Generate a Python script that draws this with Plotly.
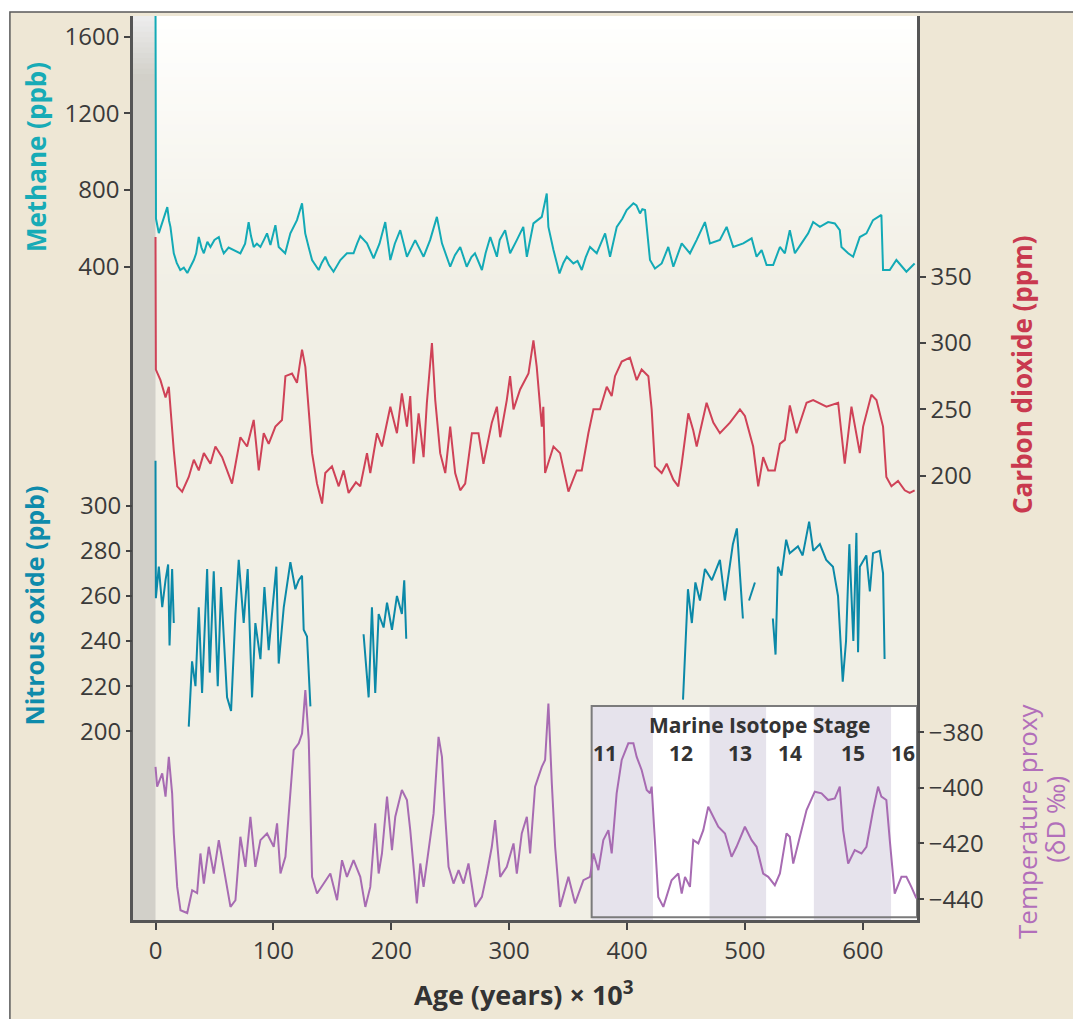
import plotly.graph_objects as go

# ---------------- DATA ----------------
ch4_age = [0, 0.4, 2.8, 6, 8.5, 10, 11.5, 12.7, 15.5, 18, 21, 24, 27, 30, 32.5, 34.5, 36.7, 39, 41, 44,
           46.6, 50, 53.7, 56, 57.9, 62, 66.4, 69, 72, 76, 79, 81, 83.3, 86, 89, 92, 94.6, 97.5, 101.7,
           104.5, 107, 110, 114.4, 120, 124.3, 127, 130, 132.8, 138.4, 141, 144, 147, 151, 156.8, 162.4,
           168, 171, 173.7, 179.4, 185, 190, 194.9, 199.2, 203, 207.6, 213.3, 220.3, 227.4, 233, 238.7,
           243, 250, 254, 258.5, 264, 268, 271, 276.9, 280, 284, 289.6, 292, 296.6, 300.8, 306.5, 312,
           315, 320.6, 327.7, 331.9, 333.3, 337.6, 342.7, 346, 348.9, 354.5, 358, 361.6, 365, 368.6,
           374.3, 381.4, 385.6, 391.3, 396, 399.7, 405.4, 408, 411, 413, 415.3, 419.5, 423.7, 429.4, 435,
           439.3, 446.4, 453.4, 459, 466.1, 470.3, 478.8, 484.5, 490.1, 498.6, 505.7, 509.9, 514.2, 518.4,
           524, 529.7, 533.9, 538.1, 542.4, 548, 553.7, 557.9, 563.6, 570.6, 576.3, 580.5, 581.9, 587.6,
           591.8, 597.5, 603.1, 608.7, 615.8, 617.2, 622.9, 628.5, 637, 644]
ch4_val = [1780, 650, 575, 640, 690, 711, 640, 607, 470, 420, 383, 395, 367, 400, 435, 470, 555, 500, 470, 530,
           503, 540, 555, 500, 470, 500, 487, 480, 470, 520, 633, 560, 503, 520, 503, 540, 574, 513, 617,
           503, 490, 470, 574, 643, 731, 574, 500, 435, 383, 420, 452, 410, 374, 435, 470,
           470, 520, 560, 522, 444, 520, 633, 435, 520, 591, 452, 539, 452, 540, 660,
           522, 400, 460, 503, 400, 450, 470, 383, 470, 555, 452, 540, 591, 470, 539, 608,
           452, 626, 660, 782, 608, 487, 365, 420, 452, 417, 430, 383, 450, 503,
           470, 574, 452, 608, 650, 696, 731, 720, 678, 700, 696, 435, 391, 417, 503,
           400, 522, 470, 539, 633, 522, 540, 608, 503, 522, 548, 452, 487, 409,
           409, 503, 470, 591, 470, 522, 574, 633, 608, 633, 626, 591, 503, 470,
           452, 555, 574, 643, 670, 383, 383, 435, 374, 417]

co2_age = [0, 0.3, 4.2, 8.5, 11.3, 12.7, 15.5, 18.4, 22.6, 28.2, 32.5, 36.7, 41, 46.6, 50.8, 56.5, 64.9, 72,
           77.7, 83.3, 87.6, 91.8, 96, 101.7, 107.3, 110.2, 115.8, 120, 124.3, 127.1, 130, 132.8, 137,
           141.3, 144, 149.7, 155.4, 159.6, 163.8, 170, 173.7, 179.4, 182.2, 187.9, 192.1, 199.2, 204.8,
           209, 213.3, 216.1, 218.9, 223.2, 227.4, 230.2, 234.5, 237.3, 241.5, 245.8, 250, 254.2, 258.5,
           262.7, 268.4, 274, 278.2, 285.3, 289.6, 292.4, 298, 300.8, 303.7, 309.3, 316.4, 320.6, 323.4,
           327.7, 329, 330.5, 337.6, 343.2, 350.3, 357.3, 361.6, 367.2, 371.5, 377.1, 382.8, 387, 389.8,
           395.5, 402.5, 408.2, 412.4, 418.1, 420.9, 423.7, 429.4, 433.6, 439.3, 443.5, 446.4, 452, 456.2,
           459.1, 467.5, 473.2, 478.8, 487.3, 495.8, 500, 507, 511.3, 515.5, 519.8, 525.4, 529.7, 533.9,
           538.1, 543.8, 552.3, 557.9, 569.2, 579.1, 584.7, 590.4, 594.6, 597.5, 600.3, 607.3, 611.6,
           617.2, 620, 624.3, 629.9, 635.6, 639.8, 644]
co2_val = [380, 280, 272, 259, 267, 249, 219, 192, 188, 199, 212, 204, 217, 209, 222, 214, 194, 229,
           222, 242, 204, 232, 224, 237, 242, 275, 277, 270, 295, 282, 247, 217, 194,
           179, 202, 207, 192, 204, 187, 195, 192, 217, 202, 232, 222, 252, 232,
           262, 237, 260, 209, 247, 214, 255, 300, 257, 217, 202, 237, 202, 189,
           194, 232, 232, 209, 240, 252, 229, 257, 275, 250, 265, 277, 302, 282,
           237, 252, 202, 222, 217, 188, 204, 204, 232, 250, 250, 267, 260, 275,
           286, 289, 272, 280, 275, 250, 207, 202, 209, 197, 192, 209, 247, 234,
           222, 255, 240, 232, 240, 250, 245, 222, 192, 214, 204, 204, 224, 227,
           253, 232, 255, 257, 252, 255, 209, 252, 232, 217, 237, 261, 257,
           237, 199, 192, 196, 189, 187, 189]

# Nitrous oxide: None marks gaps in the record
n2o_age = [0, 0.3, 2.8, 5.7, 8.5, 10.7, 11.9, 14.1, 15.5, None,
           28.2, 31, 33.9, 36.7, 39.5, 43.8, 46, 49.4, 52.8, 55.6, 60.7, 64.1, 67.8, 70.6, 74.8, 78.2,
           81.9, 84.7, 89, 92.4, 96, 98.9, 102.5, 104.5, 108.8, 114.4, 118.6, 121.5, 124.3, 125.7, 128.5,
           131.4, None,
           176.5, 180.8, 183.6, 186.4, 189.3, 193.5, 196.4, 200.6, 204.8, 209, 211, 212.7, None,
           447.5, 451.7, 455, 458, 461.9, 466.1, 472, 478.8, 483, 489.8, 493.2, 495.8, 498.3, None,
           503.5, 508.5, None,
           523.7, 526, 528, 531, 535, 538, 545, 549, 554.5, 558, 563.6, 569, 574.7, 579, 583, 585.8,
           588.6, 592, 594.6, 596, 597.5, 603, 606, 608.7, 614.4, 617.2, 618.5]
n2o_val = [320, 259, 273, 255, 267, 274, 238, 272, 248, None,
           202, 231, 220, 255, 217, 272, 226, 271, 220, 264, 215, 209, 252, 276, 248, 272,
           215, 248, 232, 264, 236, 251, 273, 230, 255, 275, 263, 267, 269, 245, 242,
           211, None,
           243, 215, 255, 217, 252, 246, 257, 245, 260, 252, 267, 241, None,
           214, 263, 248, 266, 258, 272, 267, 276, 258, 283, 290, 267, 250, None,
           258, 266, None,
           250, 234, 273, 269, 285, 279, 282, 278, 293, 280, 283, 276, 273, 260, 222, 240,
           283, 240, 288, 235, 273, 278, 262, 279, 280, 270, 232]

temp_age = [0, 1.4, 5.7, 8.5, 11.3, 14.1, 15.5, 18.4, 21.2, 26.9, 31.1, 35.3, 38.1, 41, 45.2, 49.4, 53.7,
            57.9, 63.6, 67.8, 72, 76.3, 80.5, 84.7, 89, 94.6, 100.3, 103.1, 106, 110.2, 114.4, 117.2,
            121.5, 124.3, 127.1, 130, 132.8, 137, 142.7, 148.3, 154, 158.2, 162.4, 168, 173.7, 178, 182.2,
            186.4, 189.3, 192.1, 196.4, 200.6, 203.4, 209, 213.3, 216.1, 221.7, 224.6, 227.4, 231.6,
            235.9, 240.1, 243, 245.8, 248.6, 252.8, 257.1, 261.3, 265.5, 271.2, 276.9, 281.1, 285.3,
            288.1, 292.4, 298, 303.7, 306.5, 310.7, 315, 317.8, 322, 327.7, 330.5, 333.3, 336.2, 339,
            343.2, 350.3, 355.9, 363, 368.6, 371.5, 375.7, 379.9, 384.2, 387, 391.2, 395.5, 401.1, 405.4,
            408.2, 412.4, 416.7, 419.5, 420.9, 426.5, 430.8, 437.8, 443.5, 446.4, 449.2, 453.4, 456.2,
            460.5, 464.7, 468.9, 477.4, 483.1, 488.7, 492.9, 500, 505.7, 509.9, 515.5, 519.8, 525.4,
            529.7, 535.3, 538.1, 541, 546.6, 552.3, 559.3, 565, 570.6, 576.3, 580.5, 583.3, 587.6, 593.2,
            598.9, 603.1, 608.8, 613, 615.8, 620, 622.9, 627.1, 632.8, 637, 641.2, 645.5]
temp_val = [-392.5, -399.6, -394.8, -403.2, -388.9, -402, -416.4, -435.6, -444, -445, -436.8, -437.8, -423.6,
            -434.4, -421.2, -430.8, -418.8, -428.4, -442.8, -440.4, -417.6, -428.4, -410.4, -428.4, -418.8,
            -416.4, -421.2, -412.8, -430.8, -424.8, -399.6, -386.5, -384, -380.5, -364.9, -382.9, -432,
            -438, -434.4, -430.8, -440.4, -426, -432, -426, -432, -442.8, -435.6, -412.8, -430.8, -423.6,
            -403.2, -422.4, -410.4, -400.8, -404.4, -415.2, -441.5, -427.2, -435.6, -422.4, -409.2,
            -381.7, -388.9, -410.4, -428.4, -434.4, -429.6, -434.4, -427.2, -442.8, -439.2, -430.8,
            -421.2, -411.6, -432, -428.4, -420, -430.8, -416.4, -410.4, -423.6, -399.6, -392.5, -390,
            -369.7, -398.4, -421.2, -442.8, -432, -441.5, -433.2, -432, -423.6, -429.6, -418.8, -415.2,
            -423.6, -402, -390, -384, -384, -388.9, -393.6, -400.8, -402, -399.6, -439.2, -442.8, -433.2,
            -430.8, -438, -432, -435.6, -418.8, -420, -415.2, -406.8, -414, -416.4, -424.8, -421.2, -414,
            -418.8, -421.2, -430.8, -432, -435, -430.8, -416.4, -417.6, -427.2, -417.6, -408, -401.4,
            -402, -404.4, -403.8, -399.6, -415.2, -427.2, -422.4, -423.6, -421.2, -408, -399.6, -403.2,
            -404.4, -418.8, -438, -432, -432, -435.6, -439.7]

x_ticks = [0, 100, 200, 300, 400, 500, 600]
ch4_ticks = [400, 800, 1200, 1600]
co2_ticks = [200, 250, 300, 350]
n2o_ticks = [200, 220, 240, 260, 280, 300]
temp_ticks = [-440, -420, -400, -380]

stage_labels = ["11", "12", "13", "14", "15", "16"]
stage_bounds = [370, 422, 470, 518, 558.5, 624, 646]   # inset starts at 370
stage_label_x = [381, 446, 496, 538, 591.5, 634]
stage_shaded = [True, False, True, False, True, False]

# ---------------- STYLE ----------------
FONT = "Open Sans"
C_CH4 = "#13aab6"
C_CO2 = "#cf4257"
C_N2O = "#0b89a8"
C_TMP = "#a76bb2"
C_CH4_T = "#17abb6"
C_N2O_T = "#0e8bab"
C_CO2_T = "#c9394f"
C_TMP_T = "#b26fba"
AXC = "#555555"
TICKC = "#3a3a3a"
OUTER = "#eee7d5"
PLOTBG = (241, 239, 229)

X_RANGE = [-19.1, 646.0]

fig = go.Figure()

fig.add_trace(go.Scatter(x=co2_age, y=co2_val, yaxis="y2", mode="lines",
                         line=dict(color=C_CO2, width=2), name="CO2"))
fig.add_trace(go.Scatter(x=ch4_age, y=ch4_val, yaxis="y", mode="lines",
                         line=dict(color=C_CH4, width=2), name="CH4"))
fig.add_trace(go.Scatter(x=n2o_age, y=n2o_val, yaxis="y3", mode="lines", connectgaps=False,
                         line=dict(color=C_N2O, width=2), name="N2O"))
fig.add_trace(go.Scatter(x=temp_age, y=temp_val, yaxis="y4", mode="lines",
                         line=dict(color=C_TMP, width=2), name="Temp"))

shapes = []
# outer framed panel
shapes.append(dict(type="rect", xref="paper", yref="paper", x0=-0.157, x1=1.4, y0=-0.3, y1=1.0044,
                   fillcolor=OUTER, line=dict(color="#5a5a5a", width=1.5), layer="below"))
# plot-area base colour
shapes.append(dict(type="rect", xref="paper", yref="paper", x0=0, x1=1, y0=0, y1=1,
                   fillcolor="rgb(%d,%d,%d)" % PLOTBG, line=dict(width=0), layer="below"))
# top gradient (white -> beige)
N = 40
g_top, g_bot = 1.0, 0.70
for i in range(N):
    t = i / (N - 1)
    r = int(round(255 + (PLOTBG[0] - 255) * t))
    g = int(round(255 + (PLOTBG[1] - 255) * t))
    b = int(round(254 + (PLOTBG[2] - 254) * t))
    y1 = g_top - (g_top - g_bot) * i / N
    y0 = g_top - (g_top - g_bot) * (i + 1) / N
    shapes.append(dict(type="rect", xref="paper", yref="paper", x0=0, x1=1, y0=y0 - 0.001, y1=y1,
                       fillcolor="rgb(%d,%d,%d)" % (r, g, b), line=dict(width=0), layer="below"))
# grey band for the period before present
GB = (210, 208, 201)
shapes.append(dict(type="rect", xref="x", yref="paper", x0=X_RANGE[0], x1=0, y0=0, y1=0.93,
                   fillcolor="rgb(%d,%d,%d)" % GB, line=dict(width=0), layer="below"))
M = 12
for i in range(M):
    t = i / (M - 1)
    c = tuple(int(round(236 + (GB[k] - 236) * t)) for k in range(3))
    y1 = 1.0 - 0.07 * i / M
    y0 = 1.0 - 0.07 * (i + 1) / M
    shapes.append(dict(type="rect", xref="x", yref="paper", x0=X_RANGE[0], x1=0, y0=y0 - 0.001, y1=y1,
                       fillcolor="rgb(%d,%d,%d)" % c, line=dict(width=0), layer="below"))
# inset with marine isotope stages
INSET_TOP = 0.2367
shapes.append(dict(type="rect", xref="x", yref="paper", x0=stage_bounds[0], x1=stage_bounds[-1],
                   y0=0, y1=INSET_TOP, fillcolor="#ffffff", line=dict(width=0), layer="below"))
for i, shaded in enumerate(stage_shaded):
    if shaded:
        shapes.append(dict(type="rect", xref="x", yref="paper", x0=stage_bounds[i], x1=stage_bounds[i + 1],
                           y0=0, y1=INSET_TOP, fillcolor="#e6e3ec", line=dict(width=0), layer="below"))
shapes.append(dict(type="rect", xref="x", yref="paper", x0=stage_bounds[0], x1=stage_bounds[-1],
                   y0=0.003, y1=INSET_TOP, fillcolor="rgba(0,0,0,0)",
                   line=dict(color="#7b7b7b", width=2), layer="below"))

annotations = []
annotations.append(dict(text="<b>Marine Isotope Stage</b>", xref="x", yref="paper", x=512, y=0.2157,
                        showarrow=False, font=dict(family=FONT, size=21, color="#333333"),
                        xanchor="center", yanchor="middle"))
for lab, lx in zip(stage_labels, stage_label_x):
    annotations.append(dict(text="<b>%s</b>" % lab, xref="x", yref="paper", x=lx, y=0.1847,
                            showarrow=False, font=dict(family=FONT, size=21, color="#333333"),
                            xanchor="center", yanchor="middle"))
# axis titles
annotations.append(dict(text="<b>Methane (ppb)</b>", xref="paper", yref="paper", x=-0.1237, y=0.844,
                        textangle=-90, showarrow=False, font=dict(family=FONT, size=26, color=C_CH4_T),
                        xanchor="center", yanchor="middle"))
annotations.append(dict(text="<b>Nitrous oxide (ppb)</b>", xref="paper", yref="paper", x=-0.126, y=0.348,
                        textangle=-90, showarrow=False, font=dict(family=FONT, size=25, color=C_N2O_T),
                        xanchor="center", yanchor="middle"))
annotations.append(dict(text="<b>Carbon dioxide (ppm)</b>", xref="paper", yref="paper", x=1.134, y=0.603,
                        textangle=-90, showarrow=False, font=dict(family=FONT, size=26, color=C_CO2_T),
                        xanchor="center", yanchor="middle"))
annotations.append(dict(text="Temperature proxy", xref="paper", yref="paper", x=1.1403, y=0.1095,
                        textangle=-90, showarrow=False, font=dict(family=FONT, size=26, color=C_TMP_T),
                        xanchor="center", yanchor="middle"))
annotations.append(dict(text="(δD ‰)", xref="paper", yref="paper", x=1.175, y=0.111,
                        textangle=-90, showarrow=False, font=dict(family=FONT, size=26, color=C_TMP_T),
                        xanchor="center", yanchor="middle"))
annotations.append(dict(text="<b>Age (years) × 10<sup>3</sup></b>", xref="paper", yref="paper",
                        x=0.4987, y=-0.0808, showarrow=False,
                        font=dict(family=FONT, size=27, color="#333333"),
                        xanchor="center", yanchor="middle"))

tickfont = dict(family=FONT, size=24, color=TICKC)
common_y = dict(showgrid=False, zeroline=False, ticks="outside", ticklen=6, tickwidth=2,
                tickcolor="#444444", tickfont=tickfont, tickmode="array", fixedrange=True)

fig.update_layout(
    width=1073, height=1019,
    margin=dict(l=133, r=156, t=16, b=99),
    paper_bgcolor="#ffffff",
    plot_bgcolor="rgba(0,0,0,0)",
    showlegend=False,
    shapes=shapes,
    annotations=annotations,
    xaxis=dict(range=X_RANGE, showgrid=False, zeroline=False, showline=True, linecolor=AXC,
               linewidth=2.5, ticks="outside", ticklen=7, tickwidth=2, tickcolor="#444444",
               tickmode="array", tickvals=x_ticks, tickfont=tickfont),
    yaxis=dict(range=[-3008, 1708], tickvals=ch4_ticks, side="left", showline=True,
               linecolor=AXC, linewidth=2.5, **common_y),
    yaxis2=dict(range=[-134.9, 546.5], tickvals=co2_ticks, side="right", overlaying="y",
                showline=True, linecolor=AXC, linewidth=2.5, **common_y),
    yaxis3=dict(range=[116.2, 517.4], tickvals=n2o_ticks, side="left", overlaying="y",
                showline=False, **common_y),
    yaxis4=dict(range=[-447.5, -122.7], tickvals=temp_ticks, side="right", overlaying="y",
                showline=False, **common_y),
)

fig.write_html("out.html", config={"displayModeBar": False},
               post_script="document.body.style.margin='0';")
